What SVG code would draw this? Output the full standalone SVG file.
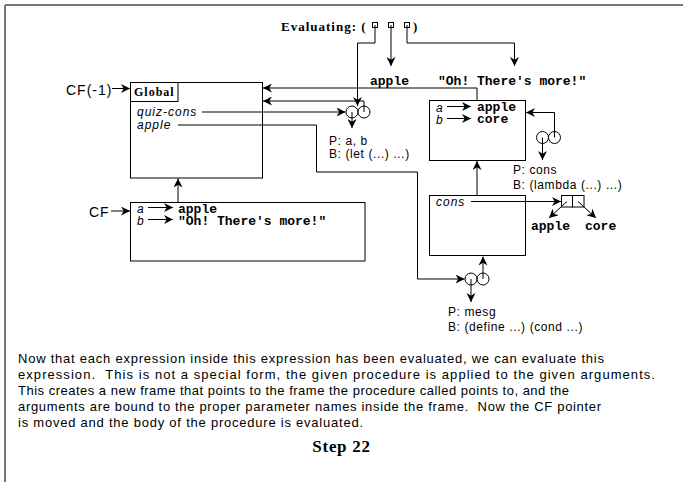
<svg xmlns="http://www.w3.org/2000/svg" width="683" height="482" viewBox="0 0 683 482">
<defs>
<marker id="arr" viewBox="0 0 10 10" refX="10" refY="5" markerWidth="9" markerHeight="9" markerUnits="userSpaceOnUse" orient="auto">
<path d="M0,0 L10,5 L0,10 L3,5 z" fill="#000"/>
</marker>
<style>
.ln{fill:none;stroke:#000;stroke-width:1}
.ar{fill:none;stroke:#000;stroke-width:1;marker-end:url(#arr)}
.box{fill:#fff;stroke:#000;stroke-width:1}
.circ{fill:#fff;stroke:#000;stroke-width:1}
.sans{font-family:"Liberation Sans",Arial,sans-serif;fill:#000}
.it{font-family:"Liberation Sans",Arial,sans-serif;font-style:italic;font-size:12px;letter-spacing:1px;fill:#000}
.mono{font-family:"Liberation Mono","Courier New",monospace;font-weight:bold;font-size:13px;fill:#000}
.serifb{font-family:"Liberation Serif","Times New Roman",serif;font-weight:bold;fill:#000}
.lab{font-family:"Liberation Sans",Arial,sans-serif;font-size:12px;letter-spacing:0.6px;fill:#000}
.para{font-family:"Liberation Sans",Arial,sans-serif;font-size:13px;fill:#000;white-space:pre}
</style>
</defs>
<rect x="0" y="0" width="683" height="482" fill="#fff"/>
<path d="M5,5 H683 M5,5 V482" stroke="#777" stroke-width="2" fill="none"/>

<g id="evaluating">
<text class="serifb" x="281" y="31" font-size="13" letter-spacing="1">Evaluating: (</text>
<rect class="box" x="372.5" y="22.5" width="5" height="5"/>
<rect class="box" x="388.5" y="22.5" width="5" height="5"/>
<rect class="box" x="404.5" y="22.5" width="5" height="5"/>
<text class="serifb" x="413" y="31" font-size="13">)</text>
<text class="mono" x="370" y="85">apple</text>
<text class="mono" x="438" y="85">"Oh! There's more!"</text>
</g>

<g id="global-frame">
<rect class="box" x="130.5" y="82.5" width="132" height="95.5"/>
<rect class="box" x="130.5" y="82.5" width="47.5" height="19"/>
<text class="serifb" x="134" y="96" font-size="12" letter-spacing="1">Global</text>
<text class="it" x="137" y="116">quiz-cons</text>
<text class="it" x="137" y="129">apple</text>
<text class="sans" x="66" y="95" font-size="14" letter-spacing="1">CF(-1)</text>
</g>

<g id="cf-frame">
<rect class="box" x="130.5" y="202.5" width="234.5" height="58.5"/>
<text class="it" x="137" y="213" letter-spacing="0">a</text>
<text class="it" x="137" y="225" letter-spacing="0">b</text>
<text class="mono" x="178" y="213">apple</text>
<text class="mono" x="178" y="225">"Oh! There's more!"</text>
<text class="sans" x="89" y="216.5" font-size="14" letter-spacing="1">CF</text>
</g>

<g id="ab-frame">
<rect class="box" x="429.5" y="100.5" width="96" height="60"/>
<text class="it" x="436" y="112" letter-spacing="0">a</text>
<text class="it" x="436" y="124" letter-spacing="0">b</text>
<text class="mono" x="477" y="111">apple</text>
<text class="mono" x="477" y="123">core</text>
</g>

<g id="cons-frame">
<rect class="box" x="429.5" y="195.5" width="96" height="60"/>
<text class="it" x="436" y="205.5">cons</text>
</g>

<g id="cons-cell">
<rect class="box" x="561.5" y="195.5" width="11" height="11.5"/>
<rect class="box" x="572.5" y="195.5" width="11.5" height="11.5"/>
<text class="mono" x="531" y="230">apple</text>
<text class="mono" x="585" y="230">core</text>
</g>

<g id="proc-quiz-cons">
<circle class="circ" cx="352" cy="112" r="6"/>
<circle class="circ" cx="364" cy="112" r="6"/>
<text class="lab" x="329" y="145">P: a, b</text>
<text class="lab" x="329" y="158">B: (let (...) ...)</text>
</g>

<g id="proc-cons">
<circle class="circ" cx="542.5" cy="137.5" r="6"/>
<circle class="circ" cx="554.5" cy="137.5" r="6"/>
<text class="lab" x="513" y="173.5">P: cons</text>
<text class="lab" x="513" y="188.5">B: (lambda (...) ...)</text>
</g>

<g id="proc-mesg">
<circle class="circ" cx="471" cy="279" r="6"/>
<circle class="circ" cx="483" cy="279" r="6"/>
<text class="lab" x="448" y="316">P: mesg</text>
<text class="lab" x="448" y="331" letter-spacing="0.3">B: (define ...) (cond ...)</text>
</g>

<g id="connectors">
<path class="ar" d="M375,25 V43 H357.5 V106"/>
<path class="ar" d="M391,25 V66"/>
<path class="ar" d="M407,25 V43 H514.5 V66"/>
<path class="ar" d="M112,88.5 H130"/>
<path class="ar" d="M111,211 H130"/>
<path class="ar" d="M202,112 H345.5"/>
<path class="ar" d="M364,112 V101 H263"/>
<path class="ar" d="M352,112 V128"/>
<path class="ar" d="M178,125 H316.5 V172 H417.5 V279 H464.5"/>
<path class="ar" d="M477,100.5 V88 H263"/>
<path class="ar" d="M178,202.5 V178.5"/>
<path class="ar" d="M148,207.5 H173"/>
<path class="ar" d="M148,219.5 H173"/>
<path class="ar" d="M447,106.5 H471"/>
<path class="ar" d="M447,118.5 H471"/>
<path class="ar" d="M554.5,137.5 V112.5 H526"/>
<path class="ar" d="M542.5,137.5 V160"/>
<path class="ar" d="M477,195.5 V161"/>
<path class="ar" d="M471,201.5 H561"/>
<path class="ar" d="M567,201.5 L549,218"/>
<path class="ar" d="M578,201.5 L596,218"/>
<path class="ar" d="M483,279 V256.5"/>
<path class="ar" d="M471,279 V302"/>
</g>

<g id="description">
<text class="para" x="18" y="363" textLength="586" lengthAdjust="spacing">Now that each expression inside this expression has been evaluated, we can evaluate this</text>
<text class="para" x="18" y="379" textLength="637" lengthAdjust="spacing">expression.  This is not a special form, the given procedure is applied to the given arguments.</text>
<text class="para" x="18" y="395" textLength="551" lengthAdjust="spacing">This creates a new frame that points to the frame the procedure called points to, and the</text>
<text class="para" x="18" y="411" textLength="583" lengthAdjust="spacing">arguments are bound to the proper parameter names inside the frame.  Now the CF pointer</text>
<text class="para" x="18" y="427" textLength="345" lengthAdjust="spacing">is moved and the body of the procedure is evaluated.</text>
<text class="serifb" x="341.5" y="452" font-size="17" letter-spacing="0.7" text-anchor="middle">Step 22</text>
</g>
</svg>
